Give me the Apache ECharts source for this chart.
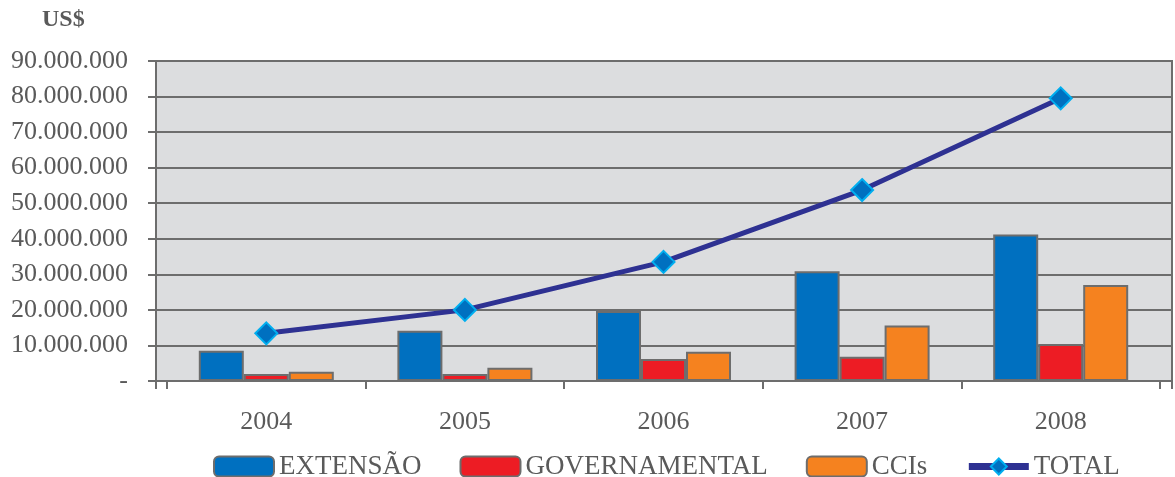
<!DOCTYPE html>
<html><head><meta charset="utf-8">
<script src="https://cdn.jsdelivr.net/npm/echarts@6/dist/echarts.min.js"></script>
<style>html,body{margin:0;padding:0;background:#fff}#c{width:1175px;height:477px}</style>
</head><body><div id="c"></div>
<script>
const years = ['2004','2005','2006','2007','2008'];
const extensao = [8500000, 14100000, 19700000, 30900000, 41200000];
const governamental = [2000000, 2000000, 6200000, 6800000, 10400000];
const ccis = [2600000, 3700000, 8200000, 15600000, 27000000];
const total = [13400000, 20000000, 33500000, 53700000, 79500000];
const seriesNames = ['EXTENSÃO','GOVERNAMENTAL','CCIs','TOTAL'];
const yMax = 90000000, yStep = 10000000;

const FONT = '"Liberation Serif", "DejaVu Serif", serif';
const TXT = '#5a5a5a';
const GRAY = '#6d6d6d';
function fmt(v){ return v === 0 ? '-' : String(v).replace(/\B(?=(\d{3})+(?!\d))/g, '.'); }

const chart = echarts.init(document.getElementById('c'), null, {renderer:'canvas'});
const barStyle = c => ({color:c, borderColor:GRAY, borderWidth:2});
chart.setOption({
  animation:false,
  title:{text:'US$', left:42, top:8, padding:0, textStyle:{fontFamily:FONT, fontSize:24, fontWeight:'bold', color:TXT}},
  grid:[
    {left:156, right:3, top:61, bottom:96, show:true, backgroundColor:'#dcdddf', borderColor:GRAY, borderWidth:2},
    {left:167, right:15, top:61, bottom:96}
  ],
  xAxis:[
    {gridIndex:0, type:'value', min:0, max:1, interval:1,
     axisLine:{show:true, lineStyle:{color:GRAY, width:2}},
     axisTick:{show:true, length:8, lineStyle:{color:GRAY, width:2}},
     axisLabel:{show:false}, splitLine:{show:false}},
    {gridIndex:1, type:'category', data:years,
     axisLine:{show:false},
     axisTick:{show:true, length:8, lineStyle:{color:GRAY, width:2}},
     axisLabel:{fontFamily:FONT, fontSize:26, color:TXT, margin:28}}
  ],
  yAxis:[
    {gridIndex:0, type:'value', min:0, max:yMax, interval:yStep,
     axisLine:{show:true, lineStyle:{color:GRAY, width:2}},
     axisTick:{show:true, length:8, lineStyle:{color:GRAY, width:2}},
     axisLabel:{formatter:fmt, fontFamily:FONT, fontSize:26, color:TXT, margin:28},
     splitLine:{show:true, lineStyle:{color:GRAY, width:2}}},
    {gridIndex:1, type:'value', min:0, max:yMax, interval:yStep, show:false, splitLine:{show:false}}
  ],
  legend:{top:453, left:213, padding:0, itemWidth:60, itemHeight:20, itemGap:38,
    textStyle:{fontFamily:FONT, fontSize:27, color:TXT},
    data:[seriesNames[0], seriesNames[1], seriesNames[2], {name:seriesNames[3], lineStyle:{width:7}}]},
  series:[
    {name:seriesNames[0], type:'bar', xAxisIndex:1, yAxisIndex:1, data:extensao, barWidth:45, barGap:'0%', itemStyle:barStyle('#0070c0')},
    {name:seriesNames[1], type:'bar', xAxisIndex:1, yAxisIndex:1, data:governamental, barWidth:45, barGap:'0%', itemStyle:barStyle('#ed1c24')},
    {name:seriesNames[2], type:'bar', xAxisIndex:1, yAxisIndex:1, data:ccis, barWidth:45, barGap:'0%', itemStyle:barStyle('#f5821f')},
    {name:seriesNames[3], type:'line', xAxisIndex:1, yAxisIndex:1, data:total, symbol:'diamond', symbolSize:22,
     lineStyle:{color:'#2e3192', width:5}, itemStyle:{color:'#0070c0', borderColor:'#00aeef', borderWidth:2}, z:5}
  ]
});
</script></body></html>
